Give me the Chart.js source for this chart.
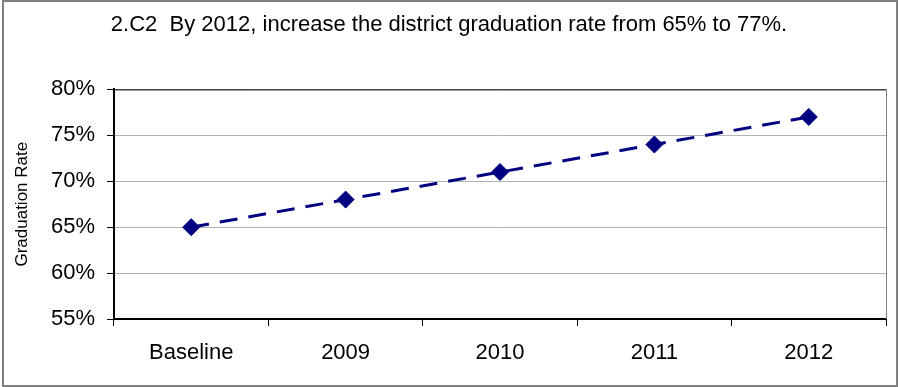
<!DOCTYPE html>
<html>
<head>
<meta charset="utf-8">
<script src="https://cdn.jsdelivr.net/npm/chart.js@4/dist/chart.umd.min.js"></script>
<style>
  body { margin: 0; background: #fff; }
  canvas { display: block; }
</style>
</head>
<body>
<canvas id="myChart" width="899" height="387"></canvas>

<script>
// graduation rate goal, baseline through 2012
var years = ["Baseline", "2009", "2010", "2011", "2012"];
var gradRate = [65, 68, 71, 74, 77];
var yTicks = [55, 60, 65, 70, 75, 80];

var chartTitle = "2.C2  By 2012, increase the district graduation rate from 65% to 77%.";
var yTitle = "Graduation Rate";

var fontFam = "'Liberation Sans', Arial, sans-serif";

// frame around the whole picture plus top/right edges of the plot box
var frames = {
  id: "frames",
  afterDraw: function (chart) {
    var ctx = chart.ctx;
    var a = chart.chartArea;
    ctx.save();
    ctx.strokeStyle = "#808080";
    ctx.lineWidth = 2;
    ctx.strokeRect(3, 1, 894, 385);

    ctx.lineWidth = 1;
    ctx.strokeStyle = "#000";
    ctx.beginPath();
    ctx.moveTo(a.left, a.top + 0.5);
    ctx.lineTo(a.right, a.top + 0.5);
    ctx.stroke();

    ctx.strokeStyle = "#808080";
    ctx.beginPath();
    ctx.moveTo(a.right + 0.5, a.top);
    ctx.lineTo(a.right + 0.5, a.bottom);
    ctx.stroke();
    ctx.restore();
  }
};

new Chart("myChart", {
  type: "line",
  data: {
    labels: years,
    datasets: [{
      data: gradRate,
      borderColor: "#000080",
      borderWidth: 3,
      borderDash: [18, 11],
      tension: 0,
      fill: false,
      pointStyle: "rectRot",
      pointRadius: 8.5,
      pointBackgroundColor: "#000080",
      pointBorderColor: "#000080",
      pointBorderWidth: 1
    }]
  },
  options: {
    responsive: false,
    animation: false,
    layout: { padding: { left: 12, right: 13, top: 0, bottom: 0 } },
    plugins: {
      legend: { display: false },
      tooltip: { enabled: false },
      title: {
        display: true,
        text: chartTitle,
        color: "#000",
        font: { family: fontFam, size: 22, weight: "normal" },
        padding: { top: 12, bottom: 51 }
      }
    },
    scales: {
      x: {
        offset: true,
        grid: {
          display: true,
          drawOnChartArea: false,
          offset: true,
          tickLength: 7,
          tickColor: "#000"
        },
        border: { color: "#000", width: 2 },
        ticks: {
          color: "#000",
          padding: 14,
          maxRotation: 0,
          font: { family: fontFam, size: 22 }
        },
        afterFit: function (s) { s.height = 68; }
      },
      y: {
        min: 55,
        max: 80,
        afterBuildTicks: function (s) {
          s.ticks = yTicks.map(function (v) { return { value: v }; });
        },
        grid: {
          color: "#b3b3b3",
          tickColor: "#000",
          tickLength: 7
        },
        border: { color: "#000", width: 2 },
        ticks: {
          color: "#000",
          padding: 12,
          font: { family: fontFam, size: 22 },
          callback: function (v) { return v + "%"; }
        },
        title: {
          display: true,
          text: yTitle,
          color: "#000",
          padding: 0,
          font: { family: fontFam, size: 17 }
        },
        afterFit: function (s) { s.width = 102; }
      }
    }
  },
  plugins: [frames]
});
</script>
</body>
</html>
